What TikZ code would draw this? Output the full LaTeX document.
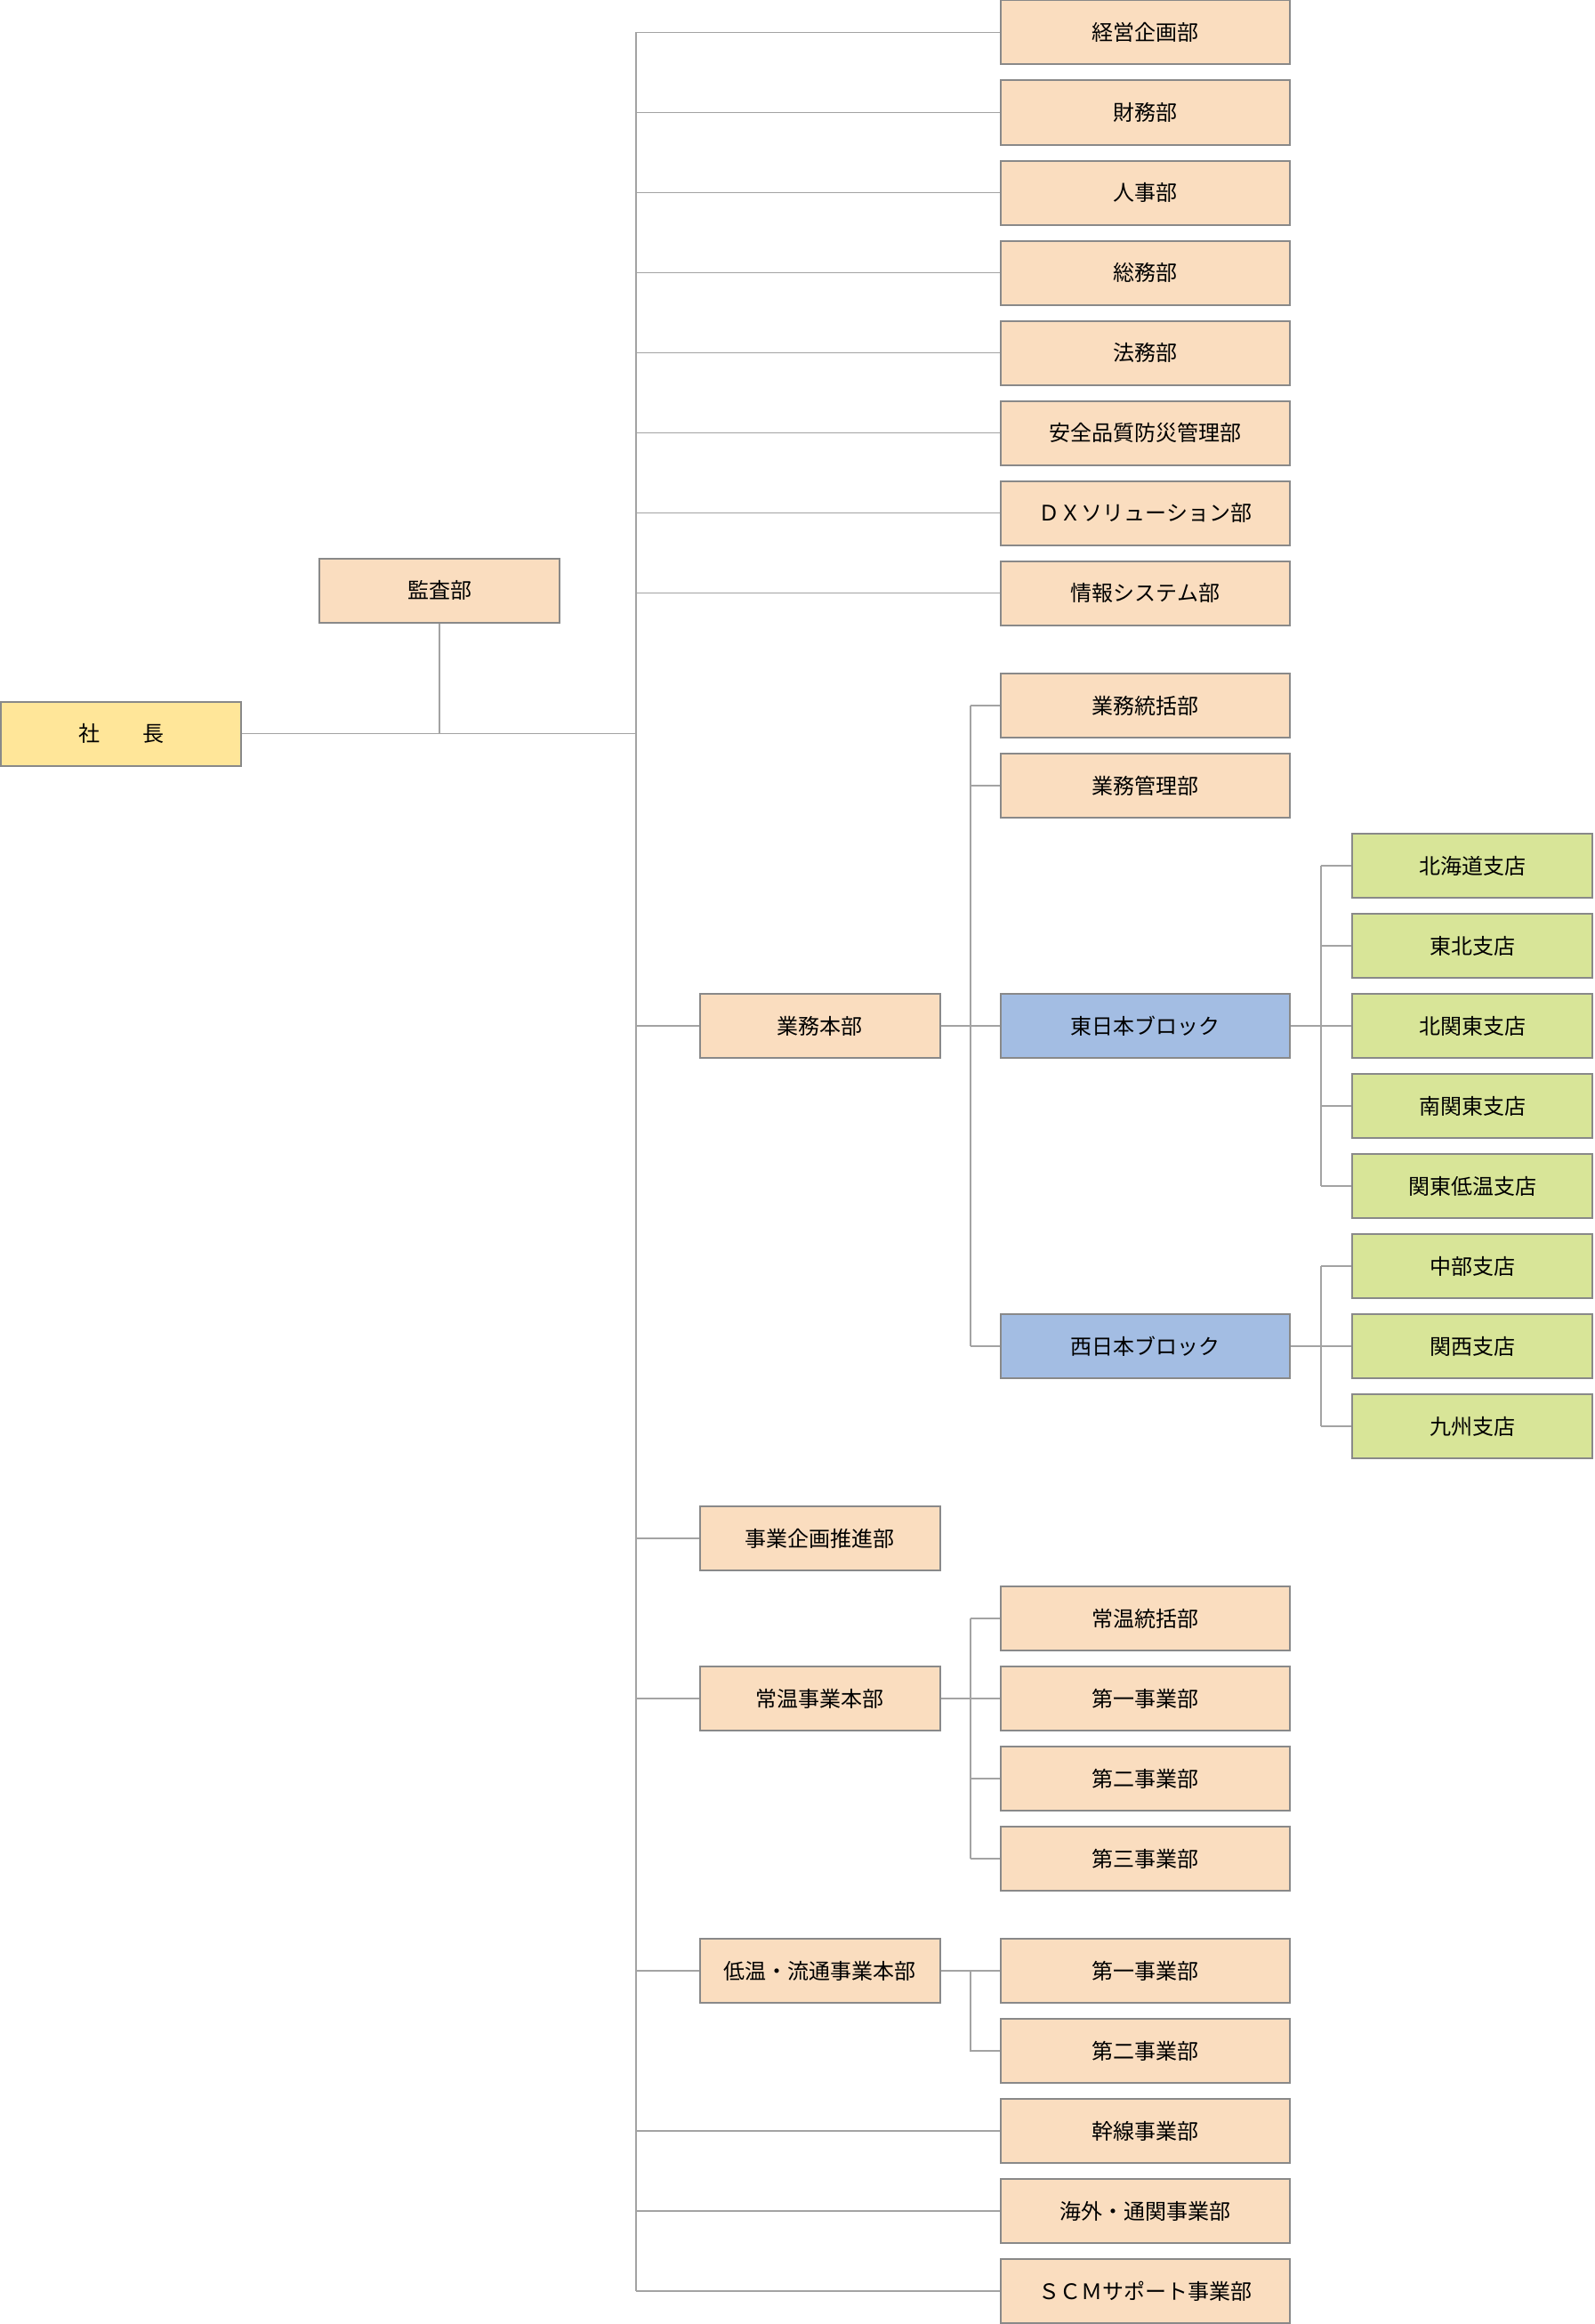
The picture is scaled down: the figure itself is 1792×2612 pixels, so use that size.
\documentclass[tikz,border=0pt]{standalone}
\usepackage{fontspec}
\newfontfamily\jp{Noto Sans CJK JP}
\definecolor{peach}{HTML}{FADDBF}
\definecolor{ylw}{HTML}{FFE699}
\definecolor{blu}{HTML}{A3BDE3}
\definecolor{grn}{HTML}{D8E598}
\definecolor{bordergray}{HTML}{898989}
\definecolor{linegray}{HTML}{A3A3A3}
\tikzset{
  box/.style={draw=bordergray, line width=2pt, minimum height=72pt, inner sep=0pt, font=\jp\fontsize{24}{29}\selectfont, text=black},
  colc/.style={box, fill=peach, minimum width=325pt},
  colb/.style={box, fill=peach, minimum width=270pt},
  gbox/.style={box, fill=grn, minimum width=270pt},
  bbox/.style={box, fill=blu, minimum width=325pt},
  conn/.style={draw=linegray, line width=1.7pt},
}
\begin{document}
\begin{tikzpicture}[x=1pt,y=-1pt]
\useasboundingbox (0,0) rectangle (1792,2612);
% trunk coordinates
\coordinate (t1) at (715,0);
\coordinate (t2) at (1091,0);
\coordinate (t3) at (1485,0);
% top nodes
\node[box, fill=ylw, minimum width=270pt] (shacho) at (136,824.5) {社　　長};
\node[colb] (kansa) at (494,663.5) {監査部};
% column C, upper
\node[colc] (keiei) at (1287.5,36.5) {経営企画部};
\node[colc] (zaimu) at (1287.5,126.5) {財務部};
\node[colc] (jinji) at (1287.5,216.5) {人事部};
\node[colc] (soumu) at (1287.5,306.5) {総務部};
\node[colc] (houmu) at (1287.5,396.5) {法務部};
\node[colc] (anzen) at (1287.5,486.5) {安全品質防災管理部};
\node[colc] (dx) at (1287.5,576.5) {ＤＸソリューション部};
\node[colc] (jouhou) at (1287.5,666.5) {情報システム部};
% gyomu honbu
\node[colb] (gyomu) at (921.5,1153) {業務本部};
\node[colc] (toukatsu) at (1287.5,793) {業務統括部};
\node[colc] (kanri) at (1287.5,883) {業務管理部};
\node[bbox] (higashi) at (1287.5,1153) {東日本ブロック};
\node[bbox] (nishi) at (1287.5,1513) {西日本ブロック};
\node[gbox] (hokkaido) at (1655,973) {北海道支店};
\node[gbox] (tohoku) at (1655,1063) {東北支店};
\node[gbox] (kitakanto) at (1655,1153) {北関東支店};
\node[gbox] (minamikanto) at (1655,1243) {南関東支店};
\node[gbox] (kantoteion) at (1655,1333) {関東低温支店};
\node[gbox] (chubu) at (1655,1423) {中部支店};
\node[gbox] (kansai) at (1655,1513) {関西支店};
\node[gbox] (kyushu) at (1655,1603) {九州支店};
% jigyo kikaku
\node[colb] (kikaku) at (921.5,1729) {事業企画推進部};
% jouon
\node[colb] (jouon) at (921.5,1909) {常温事業本部};
\node[colc] (jtoukatsu) at (1287.5,1819) {常温統括部};
\node[colc] (jdai1) at (1287.5,1909) {第一事業部};
\node[colc] (jdai2) at (1287.5,1999) {第二事業部};
\node[colc] (jdai3) at (1287.5,2089) {第三事業部};
% teion
\node[colb] (teion) at (921.5,2215) {低温・流通事業本部};
\node[colc] (tdai1) at (1287.5,2215) {第一事業部};
\node[colc] (tdai2) at (1287.5,2305) {第二事業部};
% bottom
\node[colc] (kansen) at (1287.5,2395) {幹線事業部};
\node[colc] (kaigai) at (1287.5,2485) {海外・通関事業部};
\node[colc] (scm) at (1287.5,2575) {ＳＣＭサポート事業部};

% ---- connectors
\draw[conn] (shacho.east) -- (shacho.east -| t1);
\draw[conn] (kansa.south) -- (kansa.south |- shacho.east);
\draw[conn] (keiei.west -| t1) -- (scm.west -| t1);
\foreach \n in {keiei,zaimu,jinji,soumu,houmu,anzen,dx,jouhou,gyomu,kikaku,jouon,teion,kansen,kaigai,scm}
  \draw[conn] (\n.west -| t1) -- (\n.west);
% gyomu honbu
\draw[conn] (gyomu.east) -- (higashi.west);
\draw[conn] (toukatsu.west -| t2) -- (nishi.west -| t2);
\foreach \n in {toukatsu,kanri,nishi}
  \draw[conn] (\n.west -| t2) -- (\n.west);
% east block
\draw[conn] (higashi.east) -- (kitakanto.west);
\draw[conn] (hokkaido.west -| t3) -- (kantoteion.west -| t3);
\foreach \n in {hokkaido,tohoku,minamikanto,kantoteion}
  \draw[conn] (\n.west -| t3) -- (\n.west);
% west block
\draw[conn] (nishi.east) -- (kansai.west);
\draw[conn] (chubu.west -| t3) -- (kyushu.west -| t3);
\foreach \n in {chubu,kyushu}
  \draw[conn] (\n.west -| t3) -- (\n.west);
% jouon
\draw[conn] (jouon.east) -- (jdai1.west);
\draw[conn] (jtoukatsu.west -| t2) -- (jdai3.west -| t2);
\foreach \n in {jtoukatsu,jdai2,jdai3}
  \draw[conn] (\n.west -| t2) -- (\n.west);
% teion
\draw[conn] (teion.east) -- (tdai1.west);
\draw[conn] (tdai1.west -| t2) -- (tdai2.west -| t2) -- (tdai2.west);
\end{tikzpicture}
\end{document}
